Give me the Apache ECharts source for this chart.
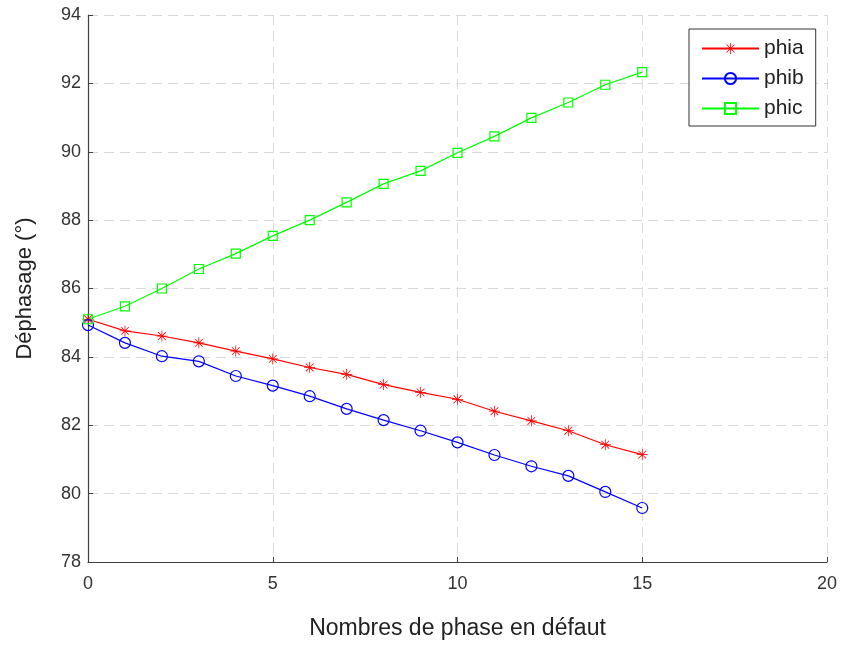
<!DOCTYPE html>
<html>
<head>
<meta charset="utf-8">
<script src="https://cdn.jsdelivr.net/npm/echarts@6/dist/echarts.min.js"></script>
<style>
  html, body { margin: 0; padding: 0; background: #fff; }
  #chart { width: 842px; height: 645px; }
</style>
</head>
<body>
<div id="chart"></div>
<script>
// nombres de phase en défaut
const phases = [0, 1, 2, 3, 4, 5, 6, 7, 8, 9, 10, 11, 12, 13, 14, 15]
const phia = [85.1, 84.76, 84.61, 84.41, 84.17, 83.94, 83.69, 83.49, 83.19, 82.96, 82.76, 82.41, 82.13, 81.84, 81.43, 81.14]
const phib = [84.93, 84.41, 84.02, 83.87, 83.44, 83.16, 82.85, 82.48, 82.15, 81.84, 81.5, 81.13, 80.8, 80.52, 80.05, 79.58]
const phic = [85.1, 85.48, 86.0, 86.57, 87.02, 87.54, 88.0, 88.52, 89.06, 89.44, 89.97, 90.45, 90.99, 91.44, 91.96, 92.33]
const seriesNames = ['phia', 'phib', 'phic']

const font = 'Liberation Sans, Arial, sans-serif'
const axisColor = '#404040'

// asterisque style matlab (+ et x superposés)
const asterisk = 'path://M9.3 0L10.7 0L10.7 20L9.3 20Z' +
  'M0 9.3L20 9.3L20 10.7L0 10.7Z' +
  'M3.43 2.43L17.57 16.57L16.57 17.57L2.43 3.43Z' +
  'M17.57 3.43L3.43 17.57L2.43 16.57L16.57 2.43Z'

const toPoints = ys => phases.map((x, i) => [x, ys[i]])

const lineSeries = (name, ys, color, symbol, size, hollow) => ({
  name,
  type: 'line',
  data: toPoints(ys),
  symbol,
  symbolSize: size,
  showAllSymbol: true,
  lineStyle: { color, width: 1.2 },
  itemStyle: hollow
    ? { color: 'rgba(255,255,255,0)', borderColor: color, borderWidth: 1.2 }
    : { color, borderWidth: 0 },
  emphasis: { disabled: true },
  animation: false
})

const chart = echarts.init(document.getElementById('chart'))

const splitStyle = { show: true, lineStyle: { color: '#dadada', type: [10, 6], width: 1 } }

chart.setOption({
  textStyle: { fontFamily: font },
  grid: { left: 88, right: 15, top: 15, bottom: 83 },
  legend: {
    orient: 'vertical',
    left: 689,
    top: 29,
    padding: [9, 12, 7, 12],
    itemWidth: 57,
    itemHeight: 14,
    itemGap: 9,
    borderColor: '#333',
    borderWidth: 1,
    backgroundColor: '#fff',
    data: seriesNames,
    textStyle: { fontSize: 21, color: '#222', fontFamily: font }
  },
  xAxis: {
    type: 'value',
    min: 0,
    max: 20,
    interval: 5,
    name: 'Nombres de phase en défaut',
    nameLocation: 'middle',
    nameGap: 55,
    nameTextStyle: { fontSize: 23, color: '#222' },
    axisLine: { show: true, lineStyle: { color: axisColor, width: 1.2 } },
    axisTick: { show: true, inside: true, length: 5, lineStyle: { color: axisColor } },
    axisLabel: { fontSize: 18, color: '#333', margin: 13 },
    splitLine: splitStyle
  },
  yAxis: {
    type: 'value',
    min: 78,
    max: 94,
    interval: 2,
    name: 'Déphasage (°)',
    nameLocation: 'middle',
    nameGap: 52,
    nameRotate: 90,
    nameTextStyle: { fontSize: 22, color: '#222' },
    axisLine: { show: true, lineStyle: { color: axisColor, width: 1.2 } },
    axisTick: { show: true, inside: true, length: 5, lineStyle: { color: axisColor } },
    axisLabel: { fontSize: 18, color: '#333', margin: 7 },
    splitLine: splitStyle
  },
  series: [
    lineSeries('phia', phia, '#ff0000', asterisk, 11, false),
    lineSeries('phib', phib, '#0000ff', 'circle', 11, true),
    lineSeries('phic', phic, '#00ff00', 'rect', 9, true)
  ]
})
</script>
</body>
</html>
